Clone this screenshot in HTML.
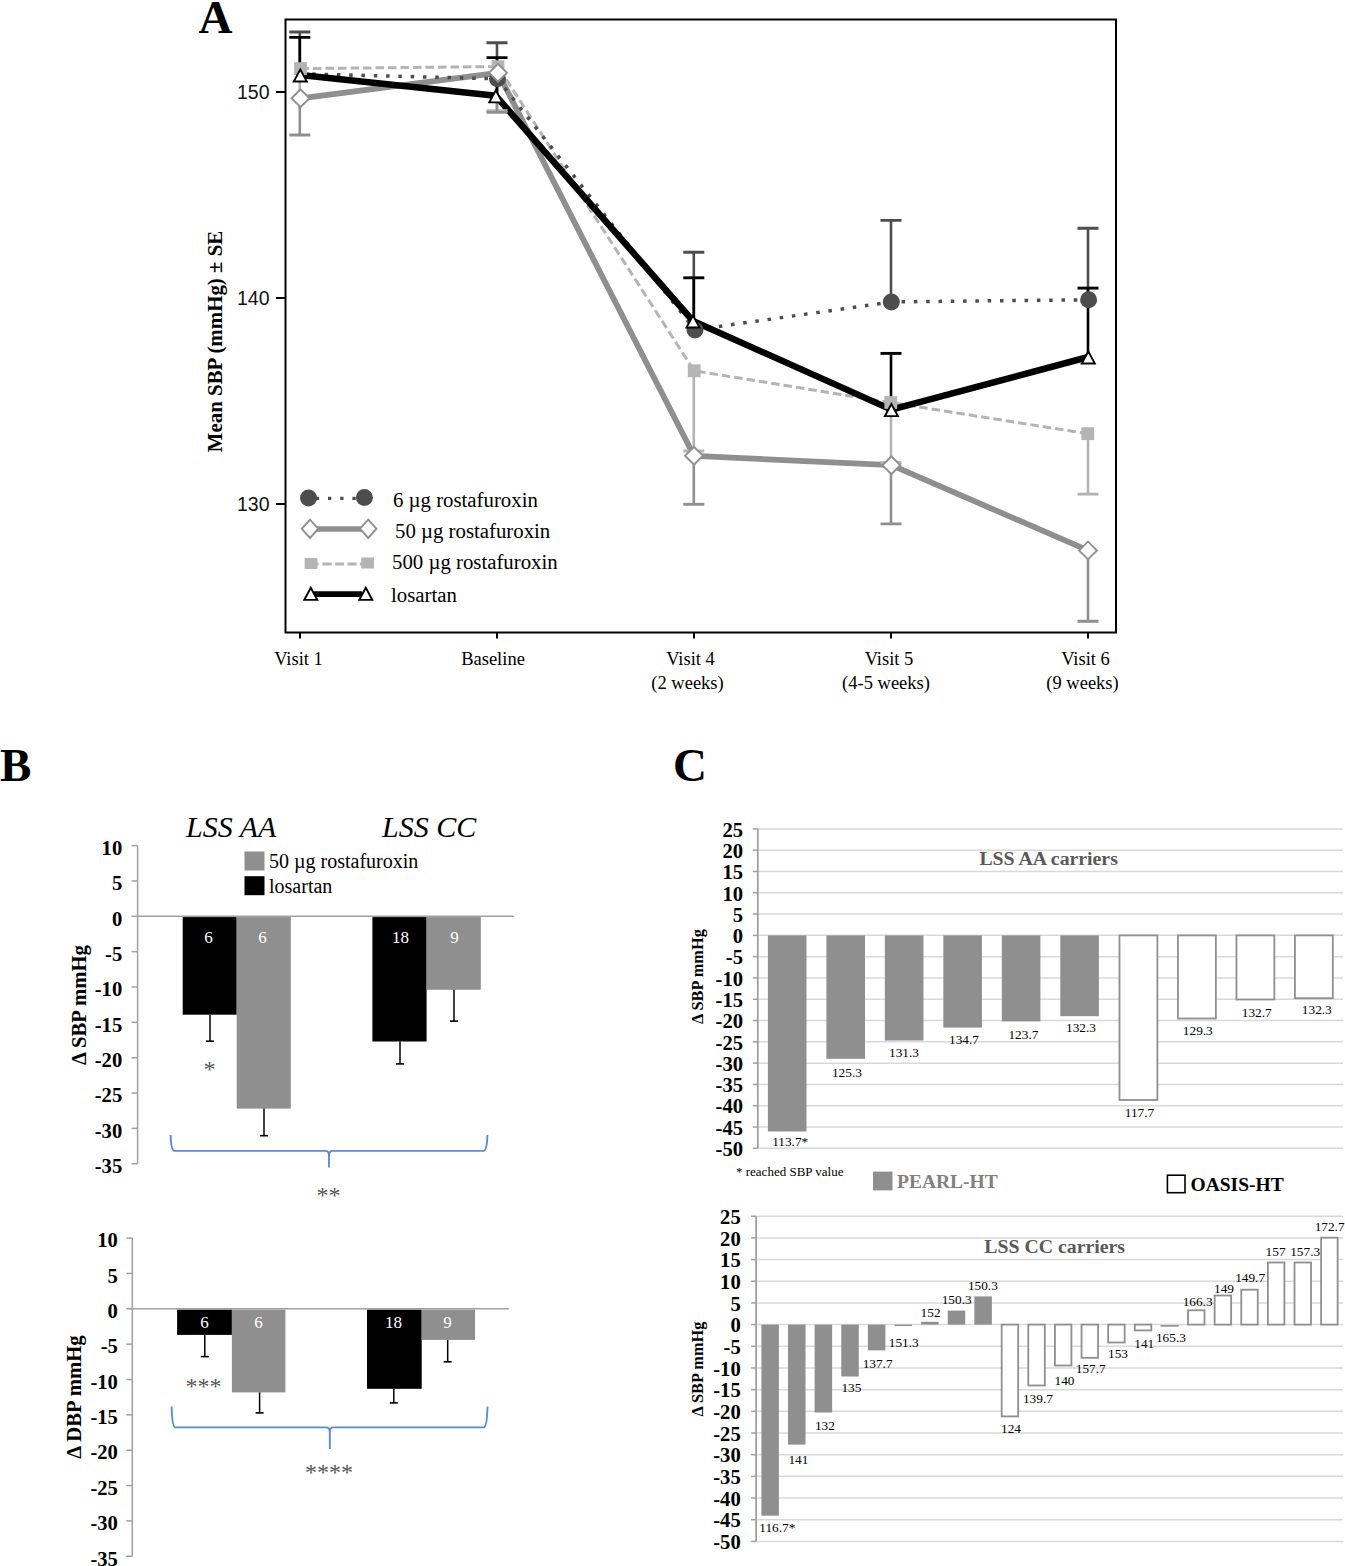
<!DOCTYPE html>
<html><head><meta charset="utf-8"><title>Figure</title>
<style>
html,body{margin:0;padding:0;background:#fff;}
body{width:1345px;height:1566px;overflow:hidden;font-family:"Liberation Serif",serif;}
svg{display:block;}
</style></head>
<body>
<svg width="1345" height="1566" viewBox="0 0 1345 1566">
<defs><clipPath id="clipA"><rect x="286.5" y="20.5" width="828.5" height="611"/></clipPath></defs>
<rect width="1345" height="1566" fill="#fff"/>
<text x="198.5" y="33" font-size="47" font-weight="bold" font-style="normal" text-anchor="start" fill="#000" font-family='"Liberation Serif", serif' >A</text>
<rect x="285.5" y="19.5" width="830.5" height="613" fill="none" stroke="#000" stroke-width="2"/>
<line x1="276" y1="92" x2="285.5" y2="92" stroke="#000" stroke-width="2" />
<text x="269.5" y="99" font-size="19.5" font-weight="normal" font-style="normal" text-anchor="end" fill="#111" font-family='"Liberation Sans", sans-serif' >150</text>
<line x1="276" y1="298" x2="285.5" y2="298" stroke="#000" stroke-width="2" />
<text x="269.5" y="305" font-size="19.5" font-weight="normal" font-style="normal" text-anchor="end" fill="#111" font-family='"Liberation Sans", sans-serif' >140</text>
<line x1="276" y1="504" x2="285.5" y2="504" stroke="#000" stroke-width="2" />
<text x="269.5" y="511" font-size="19.5" font-weight="normal" font-style="normal" text-anchor="end" fill="#111" font-family='"Liberation Sans", sans-serif' >130</text>
<line x1="300" y1="633" x2="300" y2="638.5" stroke="#000" stroke-width="2" />
<line x1="497" y1="633" x2="497" y2="638.5" stroke="#000" stroke-width="2" />
<line x1="694" y1="633" x2="694" y2="638.5" stroke="#000" stroke-width="2" />
<line x1="891" y1="633" x2="891" y2="638.5" stroke="#000" stroke-width="2" />
<line x1="1088" y1="633" x2="1088" y2="638.5" stroke="#000" stroke-width="2" />
<text x="298.5" y="665" font-size="18.5" font-weight="normal" font-style="normal" text-anchor="middle" fill="#000" font-family='"Liberation Serif", serif' >Visit 1</text>
<text x="493" y="665" font-size="18.5" font-weight="normal" font-style="normal" text-anchor="middle" fill="#000" font-family='"Liberation Serif", serif' >Baseline</text>
<text x="690.5" y="665" font-size="18.5" font-weight="normal" font-style="normal" text-anchor="middle" fill="#000" font-family='"Liberation Serif", serif' >Visit 4</text>
<text x="687.5" y="689" font-size="18.5" font-weight="normal" font-style="normal" text-anchor="middle" fill="#000" font-family='"Liberation Serif", serif' >(2 weeks)</text>
<text x="889" y="665" font-size="18.5" font-weight="normal" font-style="normal" text-anchor="middle" fill="#000" font-family='"Liberation Serif", serif' >Visit 5</text>
<text x="886" y="689" font-size="18.5" font-weight="normal" font-style="normal" text-anchor="middle" fill="#000" font-family='"Liberation Serif", serif' >(4-5 weeks)</text>
<text x="1085.5" y="665" font-size="18.5" font-weight="normal" font-style="normal" text-anchor="middle" fill="#000" font-family='"Liberation Serif", serif' >Visit 6</text>
<text x="1082.5" y="689" font-size="18.5" font-weight="normal" font-style="normal" text-anchor="middle" fill="#000" font-family='"Liberation Serif", serif' >(9 weeks)</text>
<text transform="translate(222,341.5) rotate(-90)" font-size="20.9" font-weight="bold" text-anchor="middle" font-family='"Liberation Serif", serif'>Mean SBP (mmHg) &#177; SE</text>
<g clip-path="url(#clipA)">
<polyline points="300.5,98.3 498,72.8 694,455.8 891.4,465.2 1088,550.4" fill="none" stroke="#8f8f8f" stroke-width="5.8" stroke-linejoin="round"/>
<polyline points="300.5,68.6 498,66.6 694.2,370.8 890.8,402.5 1087.7,433.7" fill="none" stroke="#b4b4b4" stroke-width="3" stroke-dasharray="8.5 4"/>
<polyline points="300,73.8 497.5,78.8 695,330 891.3,301.9 1088.6,299.8" fill="none" stroke="#4d4d4d" stroke-width="3.5" stroke-dasharray="3.5 8.8"/>
<polyline points="300.3,74.9 495.8,95.8 693,321 891.4,409.6 1088.3,357" fill="none" stroke="#000" stroke-width="6.5" stroke-linejoin="round"/>
<line x1="299.8" y1="68.6" x2="299.8" y2="92" stroke="#b4b4b4" stroke-width="2.6" />
<line x1="497" y1="66.6" x2="497" y2="110.8" stroke="#b4b4b4" stroke-width="2.6" />
<line x1="486.5" y1="110.8" x2="507.5" y2="110.8" stroke="#b4b4b4" stroke-width="2.9" />
<line x1="693.8" y1="370.8" x2="693.8" y2="451" stroke="#b4b4b4" stroke-width="2.6" />
<line x1="683.3" y1="451" x2="704.3" y2="451" stroke="#b4b4b4" stroke-width="2.9" />
<line x1="891" y1="402.5" x2="891" y2="462.6" stroke="#b4b4b4" stroke-width="2.6" />
<line x1="880.5" y1="462.6" x2="901.5" y2="462.6" stroke="#b4b4b4" stroke-width="2.9" />
<line x1="1088" y1="433.7" x2="1088" y2="494.1" stroke="#b4b4b4" stroke-width="2.6" />
<line x1="1077.5" y1="494.1" x2="1098.5" y2="494.1" stroke="#b4b4b4" stroke-width="2.9" />
<line x1="299.8" y1="98.3" x2="299.8" y2="135" stroke="#8f8f8f" stroke-width="2.6" />
<line x1="289.3" y1="135" x2="310.3" y2="135" stroke="#8f8f8f" stroke-width="2.9" />
<line x1="497" y1="72.8" x2="497" y2="112.4" stroke="#8f8f8f" stroke-width="2.6" />
<line x1="486.5" y1="112.4" x2="507.5" y2="112.4" stroke="#8f8f8f" stroke-width="2.9" />
<line x1="693.8" y1="455.8" x2="693.8" y2="504.3" stroke="#8f8f8f" stroke-width="2.6" />
<line x1="683.3" y1="504.3" x2="704.3" y2="504.3" stroke="#8f8f8f" stroke-width="2.9" />
<line x1="891" y1="465.2" x2="891" y2="523.9" stroke="#8f8f8f" stroke-width="2.6" />
<line x1="880.5" y1="523.9" x2="901.5" y2="523.9" stroke="#8f8f8f" stroke-width="2.9" />
<line x1="1088" y1="550.4" x2="1088" y2="621.3" stroke="#8f8f8f" stroke-width="2.6" />
<line x1="1077.5" y1="621.3" x2="1098.5" y2="621.3" stroke="#8f8f8f" stroke-width="2.9" />
<line x1="299.8" y1="73.8" x2="299.8" y2="32" stroke="#4d4d4d" stroke-width="2.6" />
<line x1="289.3" y1="32" x2="310.3" y2="32" stroke="#4d4d4d" stroke-width="2.9" />
<line x1="497" y1="78.8" x2="497" y2="42.8" stroke="#4d4d4d" stroke-width="2.6" />
<line x1="486.5" y1="42.8" x2="507.5" y2="42.8" stroke="#4d4d4d" stroke-width="2.9" />
<line x1="693.8" y1="330" x2="693.8" y2="252.3" stroke="#4d4d4d" stroke-width="2.6" />
<line x1="683.3" y1="252.3" x2="704.3" y2="252.3" stroke="#4d4d4d" stroke-width="2.9" />
<line x1="891" y1="301.9" x2="891" y2="220.4" stroke="#4d4d4d" stroke-width="2.6" />
<line x1="880.5" y1="220.4" x2="901.5" y2="220.4" stroke="#4d4d4d" stroke-width="2.9" />
<line x1="1088" y1="299.8" x2="1088" y2="228.3" stroke="#4d4d4d" stroke-width="2.6" />
<line x1="1077.5" y1="228.3" x2="1098.5" y2="228.3" stroke="#4d4d4d" stroke-width="2.9" />
<line x1="299.8" y1="74.9" x2="299.8" y2="37.4" stroke="#000" stroke-width="2.6" />
<line x1="289.3" y1="37.4" x2="310.3" y2="37.4" stroke="#000" stroke-width="2.9" />
<line x1="497" y1="95.8" x2="497" y2="57.6" stroke="#000" stroke-width="2.6" />
<line x1="486.5" y1="57.6" x2="507.5" y2="57.6" stroke="#000" stroke-width="2.9" />
<line x1="693.8" y1="321" x2="693.8" y2="277.8" stroke="#000" stroke-width="2.6" />
<line x1="683.3" y1="277.8" x2="704.3" y2="277.8" stroke="#000" stroke-width="2.9" />
<line x1="891" y1="409.6" x2="891" y2="353.4" stroke="#000" stroke-width="2.6" />
<line x1="880.5" y1="353.4" x2="901.5" y2="353.4" stroke="#000" stroke-width="2.9" />
<line x1="1088" y1="357" x2="1088" y2="288.1" stroke="#000" stroke-width="2.6" />
<line x1="1077.5" y1="288.1" x2="1098.5" y2="288.1" stroke="#000" stroke-width="2.9" />
<circle cx="497.5" cy="78.8" r="8.5" fill="#4d4d4d"/>
<circle cx="695" cy="330" r="8.5" fill="#4d4d4d"/>
<circle cx="891.3" cy="301.9" r="8.5" fill="#4d4d4d"/>
<circle cx="1088.6" cy="299.8" r="8.5" fill="#4d4d4d"/>
<rect x="294.1" y="62.199999999999996" width="12.8" height="12.8" fill="#b4b4b4"/>
<rect x="491.6" y="60.199999999999996" width="12.8" height="12.8" fill="#b4b4b4"/>
<rect x="687.8000000000001" y="364.40000000000003" width="12.8" height="12.8" fill="#b4b4b4"/>
<rect x="884.4" y="396.1" width="12.8" height="12.8" fill="#b4b4b4"/>
<rect x="1081.3" y="427.3" width="12.8" height="12.8" fill="#b4b4b4"/>
<path d="M300.50,88.10 L310.80,98.30 L300.50,108.50 L290.20,98.30 Z" fill="#8f8f8f"/>
<path d="M300.50,90.77 L308.10,98.30 L300.50,105.83 L292.90,98.30 Z" fill="#fff"/>
<path d="M498.00,62.60 L508.30,72.80 L498.00,83.00 L487.70,72.80 Z" fill="#8f8f8f"/>
<path d="M498.00,65.27 L505.60,72.80 L498.00,80.33 L490.40,72.80 Z" fill="#fff"/>
<path d="M694.00,445.60 L704.30,455.80 L694.00,466.00 L683.70,455.80 Z" fill="#8f8f8f"/>
<path d="M694.00,448.27 L701.60,455.80 L694.00,463.33 L686.40,455.80 Z" fill="#fff"/>
<path d="M891.40,455.00 L901.70,465.20 L891.40,475.40 L881.10,465.20 Z" fill="#8f8f8f"/>
<path d="M891.40,457.67 L899.00,465.20 L891.40,472.73 L883.80,465.20 Z" fill="#fff"/>
<path d="M1088.00,540.20 L1098.30,550.40 L1088.00,560.60 L1077.70,550.40 Z" fill="#8f8f8f"/>
<path d="M1088.00,542.87 L1095.60,550.40 L1088.00,557.93 L1080.40,550.40 Z" fill="#fff"/>
<path d="M300.30,67.40 L308.40,82.40 L292.20,82.40 Z" fill="#000"/>
<path d="M300.30,71.40 L305.21,80.50 L295.39,80.50 Z" fill="#fff"/>
<path d="M495.80,88.30 L503.90,103.30 L487.70,103.30 Z" fill="#000"/>
<path d="M495.80,92.30 L500.71,101.40 L490.89,101.40 Z" fill="#fff"/>
<path d="M693.00,313.50 L701.10,328.50 L684.90,328.50 Z" fill="#000"/>
<path d="M693.00,317.50 L697.91,326.60 L688.09,326.60 Z" fill="#fff"/>
<path d="M891.40,402.10 L899.50,417.10 L883.30,417.10 Z" fill="#000"/>
<path d="M891.40,406.10 L896.31,415.20 L886.49,415.20 Z" fill="#fff"/>
<path d="M1088.30,349.50 L1096.40,364.50 L1080.20,364.50 Z" fill="#000"/>
<path d="M1088.30,353.50 L1093.21,362.60 L1083.39,362.60 Z" fill="#fff"/>
</g>
<line x1="315.8" y1="498.4" x2="357" y2="498.4" stroke="#4d4d4d" stroke-width="3.2" stroke-dasharray="3.3 8.9"/>
<circle cx="308.5" cy="498.1" r="8.5" fill="#4d4d4d"/>
<circle cx="364.4" cy="497.4" r="8.5" fill="#4d4d4d"/>
<line x1="316" y1="529" x2="362" y2="529" stroke="#8f8f8f" stroke-width="5.6" />
<path d="M310.00,518.20 L319.50,528.80 L310.00,539.40 L300.50,528.80 Z" fill="#8f8f8f"/>
<path d="M310.00,521.05 L316.95,528.80 L310.00,536.55 L303.05,528.80 Z" fill="#fff"/>
<path d="M368.20,518.20 L377.70,528.80 L368.20,539.40 L358.70,528.80 Z" fill="#8f8f8f"/>
<path d="M368.20,521.05 L375.15,528.80 L368.20,536.55 L361.25,528.80 Z" fill="#fff"/>
<rect x="316.5" y="562.5" width="2.2" height="3" fill="#b4b4b4"/>
<rect x="322.5" y="562.5" width="9.2" height="3" fill="#b4b4b4"/>
<rect x="335.1" y="562.5" width="8.9" height="3" fill="#b4b4b4"/>
<rect x="347.5" y="562.5" width="9.1" height="3" fill="#b4b4b4"/>
<rect x="359.8" y="562.5" width="2.2" height="3" fill="#b4b4b4"/>
<rect x="304.6" y="558" width="12.8" height="11" fill="#b4b4b4"/>
<rect x="361.2" y="557.5" width="12.8" height="11" fill="#b4b4b4"/>
<line x1="314" y1="594.2" x2="362" y2="594.2" stroke="#000" stroke-width="5.7" />
<path d="M310.80,585.80 L318.90,600.80 L302.70,600.80 Z" fill="#000"/>
<path d="M310.80,589.80 L315.71,598.90 L305.89,598.90 Z" fill="#fff"/>
<path d="M365.80,585.80 L373.90,600.80 L357.70,600.80 Z" fill="#000"/>
<path d="M365.80,589.80 L370.71,598.90 L360.89,598.90 Z" fill="#fff"/>
<text x="393" y="507" font-size="20.8" font-weight="normal" font-style="normal" text-anchor="start" fill="#000" font-family='"Liberation Serif", serif' >6 &#181;g rostafuroxin</text>
<text x="395" y="538" font-size="20.8" font-weight="normal" font-style="normal" text-anchor="start" fill="#000" font-family='"Liberation Serif", serif' >50 &#181;g rostafuroxin</text>
<text x="392" y="569" font-size="20.8" font-weight="normal" font-style="normal" text-anchor="start" fill="#000" font-family='"Liberation Serif", serif' >500 &#181;g rostafuroxin</text>
<text x="391" y="601.8" font-size="20.8" font-weight="normal" font-style="normal" text-anchor="start" fill="#000" font-family='"Liberation Serif", serif' >losartan</text>
<text x="0" y="781" font-size="47" font-weight="bold" font-style="normal" text-anchor="start" fill="#000" font-family='"Liberation Serif", serif' >B</text>
<text x="186" y="836.8" font-size="30" font-weight="normal" font-style="italic" text-anchor="start" fill="#000" font-family='"Liberation Serif", serif' >LSS AA</text>
<text x="382" y="836.8" font-size="30" font-weight="normal" font-style="italic" text-anchor="start" fill="#000" font-family='"Liberation Serif", serif' >LSS CC</text>
<rect x="244.5" y="851.5" width="20" height="19" fill="#8f8f8f"/>
<rect x="244.5" y="876.2" width="20" height="19" fill="#000"/>
<text x="269" y="868.2" font-size="20" font-weight="normal" font-style="normal" text-anchor="start" fill="#000" font-family='"Liberation Serif", serif' >50 &#181;g rostafuroxin</text>
<text x="269" y="892.7" font-size="20" font-weight="normal" font-style="normal" text-anchor="start" fill="#000" font-family='"Liberation Serif", serif' >losartan</text>
<line x1="137.6" y1="845.5999999999999" x2="137.6" y2="1163.75" stroke="#a0a0a0" stroke-width="1.5" />
<line x1="131.6" y1="845.5999999999999" x2="137.6" y2="845.5999999999999" stroke="#a0a0a0" stroke-width="1.5" />
<text x="122.2" y="854.8" font-size="20.6" font-weight="bold" font-style="normal" text-anchor="end" fill="#000" font-family='"Liberation Serif", serif' >10</text>
<line x1="131.6" y1="880.9499999999999" x2="137.6" y2="880.9499999999999" stroke="#a0a0a0" stroke-width="1.5" />
<text x="122.2" y="890.1" font-size="20.6" font-weight="bold" font-style="normal" text-anchor="end" fill="#000" font-family='"Liberation Serif", serif' >5</text>
<line x1="131.6" y1="916.3" x2="137.6" y2="916.3" stroke="#a0a0a0" stroke-width="1.5" />
<text x="122.2" y="925.5" font-size="20.6" font-weight="bold" font-style="normal" text-anchor="end" fill="#000" font-family='"Liberation Serif", serif' >0</text>
<line x1="131.6" y1="951.65" x2="137.6" y2="951.65" stroke="#a0a0a0" stroke-width="1.5" />
<text x="122.2" y="960.9" font-size="20.6" font-weight="bold" font-style="normal" text-anchor="end" fill="#000" font-family='"Liberation Serif", serif' >-5</text>
<line x1="131.6" y1="987.0" x2="137.6" y2="987.0" stroke="#a0a0a0" stroke-width="1.5" />
<text x="122.2" y="996.2" font-size="20.6" font-weight="bold" font-style="normal" text-anchor="end" fill="#000" font-family='"Liberation Serif", serif' >-10</text>
<line x1="131.6" y1="1022.3499999999999" x2="137.6" y2="1022.3499999999999" stroke="#a0a0a0" stroke-width="1.5" />
<text x="122.2" y="1031.5" font-size="20.6" font-weight="bold" font-style="normal" text-anchor="end" fill="#000" font-family='"Liberation Serif", serif' >-15</text>
<line x1="131.6" y1="1057.7" x2="137.6" y2="1057.7" stroke="#a0a0a0" stroke-width="1.5" />
<text x="122.2" y="1066.9" font-size="20.6" font-weight="bold" font-style="normal" text-anchor="end" fill="#000" font-family='"Liberation Serif", serif' >-20</text>
<line x1="131.6" y1="1093.05" x2="137.6" y2="1093.05" stroke="#a0a0a0" stroke-width="1.5" />
<text x="122.2" y="1102.2" font-size="20.6" font-weight="bold" font-style="normal" text-anchor="end" fill="#000" font-family='"Liberation Serif", serif' >-25</text>
<line x1="131.6" y1="1128.4" x2="137.6" y2="1128.4" stroke="#a0a0a0" stroke-width="1.5" />
<text x="122.2" y="1137.6" font-size="20.6" font-weight="bold" font-style="normal" text-anchor="end" fill="#000" font-family='"Liberation Serif", serif' >-30</text>
<line x1="131.6" y1="1163.75" x2="137.6" y2="1163.75" stroke="#a0a0a0" stroke-width="1.5" />
<text x="122.2" y="1173.0" font-size="20.6" font-weight="bold" font-style="normal" text-anchor="end" fill="#000" font-family='"Liberation Serif", serif' >-35</text>
<rect x="182.7" y="917.0999999999999" width="54.0" height="97.6000000000001" fill="#000"/>
<rect x="236.7" y="917.0999999999999" width="54.10000000000002" height="191.49999999999994" fill="#8f8f8f"/>
<rect x="372.4" y="917.0999999999999" width="54.200000000000045" height="124.40000000000005" fill="#000"/>
<rect x="426.6" y="917.0999999999999" width="54.19999999999999" height="72.7" fill="#8f8f8f"/>
<line x1="137.6" y1="916.3" x2="513.7" y2="916.3" stroke="#a0a0a0" stroke-width="1.5" />
<line x1="210" y1="1014.7" x2="210" y2="1041.2" stroke="#000" stroke-width="1.5" />
<line x1="206" y1="1041.2" x2="214" y2="1041.2" stroke="#000" stroke-width="1.6" />
<line x1="264" y1="1108.6" x2="264" y2="1135.7" stroke="#000" stroke-width="1.5" />
<line x1="260" y1="1135.7" x2="268" y2="1135.7" stroke="#000" stroke-width="1.6" />
<line x1="400" y1="1041.5" x2="400" y2="1063.9" stroke="#000" stroke-width="1.5" />
<line x1="396" y1="1063.9" x2="404" y2="1063.9" stroke="#000" stroke-width="1.6" />
<line x1="454" y1="989.8" x2="454" y2="1021.1" stroke="#000" stroke-width="1.5" />
<line x1="450" y1="1021.1" x2="458" y2="1021.1" stroke="#000" stroke-width="1.6" />
<text x="208.5" y="942.5" font-size="17" font-weight="normal" font-style="normal" text-anchor="middle" fill="#fff" font-family='"Liberation Serif", serif' >6</text>
<text x="262.5" y="942.5" font-size="17" font-weight="normal" font-style="normal" text-anchor="middle" fill="#fff" font-family='"Liberation Serif", serif' >6</text>
<text x="400.5" y="942.5" font-size="17" font-weight="normal" font-style="normal" text-anchor="middle" fill="#fff" font-family='"Liberation Serif", serif' >18</text>
<text x="454.5" y="942.5" font-size="17" font-weight="normal" font-style="normal" text-anchor="middle" fill="#fff" font-family='"Liberation Serif", serif' >9</text>
<path d="M170.6,1135 C170.79999999999998,1143 171.6,1150.1000000000001 174.1,1150.9 L325.5,1150.9 C328,1150.9 329,1152.4 329,1155.9 L329,1167.4 M329,1155.9 C329,1152.4 330,1150.9 332.5,1150.9 L483.9,1150.9 C486.4,1150.1000000000001 487.2,1143 487.4,1135" fill="none" stroke="#5a8ec8" stroke-width="1.9"/>
<text x="209.5" y="1077" font-size="24" font-weight="normal" font-style="normal" text-anchor="middle" fill="#555" font-family='"Liberation Serif", serif' >*</text>
<text x="328.5" y="1203" font-size="24" font-weight="normal" font-style="normal" text-anchor="middle" fill="#555" font-family='"Liberation Serif", serif' >**</text>
<text transform="translate(85.9,1005) rotate(-90)" font-size="20.7" font-weight="bold" text-anchor="middle" font-family='"Liberation Serif", serif'>Δ SBP mmHg</text>
<line x1="132.3" y1="1238.1" x2="132.3" y2="1556.25" stroke="#a0a0a0" stroke-width="1.5" />
<line x1="126.30000000000001" y1="1238.1" x2="132.3" y2="1238.1" stroke="#a0a0a0" stroke-width="1.5" />
<text x="117.9" y="1247.3" font-size="20.6" font-weight="bold" font-style="normal" text-anchor="end" fill="#000" font-family='"Liberation Serif", serif' >10</text>
<line x1="126.30000000000001" y1="1273.45" x2="132.3" y2="1273.45" stroke="#a0a0a0" stroke-width="1.5" />
<text x="117.9" y="1282.7" font-size="20.6" font-weight="bold" font-style="normal" text-anchor="end" fill="#000" font-family='"Liberation Serif", serif' >5</text>
<line x1="126.30000000000001" y1="1308.8" x2="132.3" y2="1308.8" stroke="#a0a0a0" stroke-width="1.5" />
<text x="117.9" y="1318.0" font-size="20.6" font-weight="bold" font-style="normal" text-anchor="end" fill="#000" font-family='"Liberation Serif", serif' >0</text>
<line x1="126.30000000000001" y1="1344.1499999999999" x2="132.3" y2="1344.1499999999999" stroke="#a0a0a0" stroke-width="1.5" />
<text x="117.9" y="1353.3" font-size="20.6" font-weight="bold" font-style="normal" text-anchor="end" fill="#000" font-family='"Liberation Serif", serif' >-5</text>
<line x1="126.30000000000001" y1="1379.5" x2="132.3" y2="1379.5" stroke="#a0a0a0" stroke-width="1.5" />
<text x="117.9" y="1388.7" font-size="20.6" font-weight="bold" font-style="normal" text-anchor="end" fill="#000" font-family='"Liberation Serif", serif' >-10</text>
<line x1="126.30000000000001" y1="1414.85" x2="132.3" y2="1414.85" stroke="#a0a0a0" stroke-width="1.5" />
<text x="117.9" y="1424.0" font-size="20.6" font-weight="bold" font-style="normal" text-anchor="end" fill="#000" font-family='"Liberation Serif", serif' >-15</text>
<line x1="126.30000000000001" y1="1450.2" x2="132.3" y2="1450.2" stroke="#a0a0a0" stroke-width="1.5" />
<text x="117.9" y="1459.4" font-size="20.6" font-weight="bold" font-style="normal" text-anchor="end" fill="#000" font-family='"Liberation Serif", serif' >-20</text>
<line x1="126.30000000000001" y1="1485.55" x2="132.3" y2="1485.55" stroke="#a0a0a0" stroke-width="1.5" />
<text x="117.9" y="1494.8" font-size="20.6" font-weight="bold" font-style="normal" text-anchor="end" fill="#000" font-family='"Liberation Serif", serif' >-25</text>
<line x1="126.30000000000001" y1="1520.9" x2="132.3" y2="1520.9" stroke="#a0a0a0" stroke-width="1.5" />
<text x="117.9" y="1530.1" font-size="20.6" font-weight="bold" font-style="normal" text-anchor="end" fill="#000" font-family='"Liberation Serif", serif' >-30</text>
<line x1="126.30000000000001" y1="1556.25" x2="132.3" y2="1556.25" stroke="#a0a0a0" stroke-width="1.5" />
<text x="117.9" y="1565.5" font-size="20.6" font-weight="bold" font-style="normal" text-anchor="end" fill="#000" font-family='"Liberation Serif", serif' >-35</text>
<rect x="177.1" y="1309.6" width="54.80000000000001" height="25.300000000000136" fill="#000"/>
<rect x="231.9" y="1309.6" width="53.49999999999997" height="82.80000000000014" fill="#8f8f8f"/>
<rect x="367" y="1309.6" width="54.69999999999999" height="79.2" fill="#000"/>
<rect x="421.7" y="1309.6" width="53.30000000000001" height="30.300000000000136" fill="#8f8f8f"/>
<line x1="132.3" y1="1308.8" x2="508.9" y2="1308.8" stroke="#a0a0a0" stroke-width="1.5" />
<line x1="204.8" y1="1334.9" x2="204.8" y2="1356.6" stroke="#000" stroke-width="1.5" />
<line x1="200.8" y1="1356.6" x2="208.8" y2="1356.6" stroke="#000" stroke-width="1.6" />
<line x1="259.6" y1="1392.4" x2="259.6" y2="1412.9" stroke="#000" stroke-width="1.5" />
<line x1="255.60000000000002" y1="1412.9" x2="263.6" y2="1412.9" stroke="#000" stroke-width="1.6" />
<line x1="393.8" y1="1388.8" x2="393.8" y2="1402.9" stroke="#000" stroke-width="1.5" />
<line x1="389.8" y1="1402.9" x2="397.8" y2="1402.9" stroke="#000" stroke-width="1.6" />
<line x1="447.7" y1="1339.9" x2="447.7" y2="1361.8" stroke="#000" stroke-width="1.5" />
<line x1="443.7" y1="1361.8" x2="451.7" y2="1361.8" stroke="#000" stroke-width="1.6" />
<text x="204.5" y="1328.3" font-size="17" font-weight="normal" font-style="normal" text-anchor="middle" fill="#fff" font-family='"Liberation Serif", serif' >6</text>
<text x="258.5" y="1328.3" font-size="17" font-weight="normal" font-style="normal" text-anchor="middle" fill="#fff" font-family='"Liberation Serif", serif' >6</text>
<text x="393.5" y="1328.3" font-size="17" font-weight="normal" font-style="normal" text-anchor="middle" fill="#fff" font-family='"Liberation Serif", serif' >18</text>
<text x="447.5" y="1328.3" font-size="17" font-weight="normal" font-style="normal" text-anchor="middle" fill="#fff" font-family='"Liberation Serif", serif' >9</text>
<path d="M171.6,1406.6 C171.79999999999998,1414.6 172.6,1426.6000000000001 175.1,1427.4 L326.3,1427.4 C328.8,1427.4 329.8,1428.9 329.8,1432.4 L329.8,1449 M329.8,1432.4 C329.8,1428.9 330.8,1427.4 333.3,1427.4 L484.0,1427.4 C486.5,1426.6000000000001 487.3,1414.6 487.5,1406.6" fill="none" stroke="#5a8ec8" stroke-width="1.9"/>
<text x="203.6" y="1394" font-size="24" font-weight="normal" font-style="normal" text-anchor="middle" fill="#555" font-family='"Liberation Serif", serif' >***</text>
<text x="329" y="1480" font-size="24" font-weight="normal" font-style="normal" text-anchor="middle" fill="#555" font-family='"Liberation Serif", serif' >****</text>
<text transform="translate(81,1397) rotate(-90)" font-size="20.7" font-weight="bold" text-anchor="middle" font-family='"Liberation Serif", serif'>Δ DBP mmHg</text>
<text x="673" y="781" font-size="47" font-weight="bold" font-style="normal" text-anchor="start" fill="#000" font-family='"Liberation Serif", serif' >C</text>
<line x1="757.8" y1="828.9" x2="1343" y2="828.9" stroke="#d9d9d9" stroke-width="1.5" />
<line x1="752.8" y1="828.9" x2="757.8" y2="828.9" stroke="#a0a0a0" stroke-width="1.5" />
<text x="743" y="836.6" font-size="20.6" font-weight="bold" font-style="normal" text-anchor="end" fill="#000" font-family='"Liberation Serif", serif' >25</text>
<line x1="757.8" y1="850.19" x2="1343" y2="850.19" stroke="#d9d9d9" stroke-width="1.5" />
<line x1="752.8" y1="850.19" x2="757.8" y2="850.19" stroke="#a0a0a0" stroke-width="1.5" />
<text x="743" y="857.9" font-size="20.6" font-weight="bold" font-style="normal" text-anchor="end" fill="#000" font-family='"Liberation Serif", serif' >20</text>
<line x1="757.8" y1="871.49" x2="1343" y2="871.49" stroke="#d9d9d9" stroke-width="1.5" />
<line x1="752.8" y1="871.49" x2="757.8" y2="871.49" stroke="#a0a0a0" stroke-width="1.5" />
<text x="743" y="879.2" font-size="20.6" font-weight="bold" font-style="normal" text-anchor="end" fill="#000" font-family='"Liberation Serif", serif' >15</text>
<line x1="757.8" y1="892.78" x2="1343" y2="892.78" stroke="#d9d9d9" stroke-width="1.5" />
<line x1="752.8" y1="892.78" x2="757.8" y2="892.78" stroke="#a0a0a0" stroke-width="1.5" />
<text x="743" y="900.5" font-size="20.6" font-weight="bold" font-style="normal" text-anchor="end" fill="#000" font-family='"Liberation Serif", serif' >10</text>
<line x1="757.8" y1="914.07" x2="1343" y2="914.07" stroke="#d9d9d9" stroke-width="1.5" />
<line x1="752.8" y1="914.07" x2="757.8" y2="914.07" stroke="#a0a0a0" stroke-width="1.5" />
<text x="743" y="921.8" font-size="20.6" font-weight="bold" font-style="normal" text-anchor="end" fill="#000" font-family='"Liberation Serif", serif' >5</text>
<line x1="757.8" y1="935.37" x2="1343" y2="935.37" stroke="#d9d9d9" stroke-width="1.5" />
<line x1="752.8" y1="935.37" x2="757.8" y2="935.37" stroke="#a0a0a0" stroke-width="1.5" />
<text x="743" y="943.1" font-size="20.6" font-weight="bold" font-style="normal" text-anchor="end" fill="#000" font-family='"Liberation Serif", serif' >0</text>
<line x1="757.8" y1="956.66" x2="1343" y2="956.66" stroke="#d9d9d9" stroke-width="1.5" />
<line x1="752.8" y1="956.66" x2="757.8" y2="956.66" stroke="#a0a0a0" stroke-width="1.5" />
<text x="743" y="964.4" font-size="20.6" font-weight="bold" font-style="normal" text-anchor="end" fill="#000" font-family='"Liberation Serif", serif' >-5</text>
<line x1="757.8" y1="977.95" x2="1343" y2="977.95" stroke="#d9d9d9" stroke-width="1.5" />
<line x1="752.8" y1="977.95" x2="757.8" y2="977.95" stroke="#a0a0a0" stroke-width="1.5" />
<text x="743" y="985.7" font-size="20.6" font-weight="bold" font-style="normal" text-anchor="end" fill="#000" font-family='"Liberation Serif", serif' >-10</text>
<line x1="757.8" y1="999.25" x2="1343" y2="999.25" stroke="#d9d9d9" stroke-width="1.5" />
<line x1="752.8" y1="999.25" x2="757.8" y2="999.25" stroke="#a0a0a0" stroke-width="1.5" />
<text x="743" y="1007.0" font-size="20.6" font-weight="bold" font-style="normal" text-anchor="end" fill="#000" font-family='"Liberation Serif", serif' >-15</text>
<line x1="757.8" y1="1020.54" x2="1343" y2="1020.54" stroke="#d9d9d9" stroke-width="1.5" />
<line x1="752.8" y1="1020.54" x2="757.8" y2="1020.54" stroke="#a0a0a0" stroke-width="1.5" />
<text x="743" y="1028.2" font-size="20.6" font-weight="bold" font-style="normal" text-anchor="end" fill="#000" font-family='"Liberation Serif", serif' >-20</text>
<line x1="757.8" y1="1041.84" x2="1343" y2="1041.84" stroke="#d9d9d9" stroke-width="1.5" />
<line x1="752.8" y1="1041.84" x2="757.8" y2="1041.84" stroke="#a0a0a0" stroke-width="1.5" />
<text x="743" y="1049.5" font-size="20.6" font-weight="bold" font-style="normal" text-anchor="end" fill="#000" font-family='"Liberation Serif", serif' >-25</text>
<line x1="757.8" y1="1063.13" x2="1343" y2="1063.13" stroke="#d9d9d9" stroke-width="1.5" />
<line x1="752.8" y1="1063.13" x2="757.8" y2="1063.13" stroke="#a0a0a0" stroke-width="1.5" />
<text x="743" y="1070.8" font-size="20.6" font-weight="bold" font-style="normal" text-anchor="end" fill="#000" font-family='"Liberation Serif", serif' >-30</text>
<line x1="757.8" y1="1084.42" x2="1343" y2="1084.42" stroke="#d9d9d9" stroke-width="1.5" />
<line x1="752.8" y1="1084.42" x2="757.8" y2="1084.42" stroke="#a0a0a0" stroke-width="1.5" />
<text x="743" y="1092.1" font-size="20.6" font-weight="bold" font-style="normal" text-anchor="end" fill="#000" font-family='"Liberation Serif", serif' >-35</text>
<line x1="757.8" y1="1105.72" x2="1343" y2="1105.72" stroke="#d9d9d9" stroke-width="1.5" />
<line x1="752.8" y1="1105.72" x2="757.8" y2="1105.72" stroke="#a0a0a0" stroke-width="1.5" />
<text x="743" y="1113.4" font-size="20.6" font-weight="bold" font-style="normal" text-anchor="end" fill="#000" font-family='"Liberation Serif", serif' >-40</text>
<line x1="757.8" y1="1127.01" x2="1343" y2="1127.01" stroke="#d9d9d9" stroke-width="1.5" />
<line x1="752.8" y1="1127.01" x2="757.8" y2="1127.01" stroke="#a0a0a0" stroke-width="1.5" />
<text x="743" y="1134.7" font-size="20.6" font-weight="bold" font-style="normal" text-anchor="end" fill="#000" font-family='"Liberation Serif", serif' >-45</text>
<line x1="757.8" y1="1148.3" x2="1343" y2="1148.3" stroke="#d9d9d9" stroke-width="1.5" />
<line x1="752.8" y1="1148.3" x2="757.8" y2="1148.3" stroke="#a0a0a0" stroke-width="1.5" />
<text x="743" y="1156.0" font-size="20.6" font-weight="bold" font-style="normal" text-anchor="end" fill="#000" font-family='"Liberation Serif", serif' >-50</text>
<line x1="757.8" y1="828.9" x2="757.8" y2="1148.3025" stroke="#a0a0a0" stroke-width="1.8" />
<text x="979.4" y="865" font-size="19.8" font-weight="bold" font-style="normal" text-anchor="start" fill="#595959" font-family='"Liberation Serif", serif' >LSS AA carriers</text>
<rect x="767.90" y="935.4" width="38.6" height="196.10" fill="#8f8f8f"/>
<rect x="826.38" y="935.4" width="38.6" height="123.40" fill="#8f8f8f"/>
<rect x="884.86" y="935.4" width="38.6" height="105.10" fill="#8f8f8f"/>
<rect x="943.34" y="935.4" width="38.6" height="92.20" fill="#8f8f8f"/>
<rect x="1001.82" y="935.4" width="38.6" height="86.00" fill="#8f8f8f"/>
<rect x="1060.30" y="935.4" width="38.6" height="80.80" fill="#8f8f8f"/>
<rect x="1119.48" y="935.4" width="37.90" height="164.60" fill="#fff" stroke="#8f8f8f" stroke-width="1.8"/>
<rect x="1177.96" y="935.4" width="37.90" height="83.10" fill="#fff" stroke="#8f8f8f" stroke-width="1.8"/>
<rect x="1236.44" y="935.4" width="37.90" height="64.10" fill="#fff" stroke="#8f8f8f" stroke-width="1.8"/>
<rect x="1294.92" y="935.4" width="37.90" height="62.80" fill="#fff" stroke="#8f8f8f" stroke-width="1.8"/>
<text x="790.2" y="1145.5" font-size="13.3" font-weight="normal" font-style="normal" text-anchor="middle" fill="#000" font-family='"Liberation Serif", serif' >113.7*</text>
<text x="846.9" y="1076.7" font-size="13.3" font-weight="normal" font-style="normal" text-anchor="middle" fill="#000" font-family='"Liberation Serif", serif' >125.3</text>
<text x="904" y="1057.3" font-size="13.3" font-weight="normal" font-style="normal" text-anchor="middle" fill="#000" font-family='"Liberation Serif", serif' >131.3</text>
<text x="964" y="1043.9" font-size="13.3" font-weight="normal" font-style="normal" text-anchor="middle" fill="#000" font-family='"Liberation Serif", serif' >134.7</text>
<text x="1023.4" y="1038.5" font-size="13.3" font-weight="normal" font-style="normal" text-anchor="middle" fill="#000" font-family='"Liberation Serif", serif' >123.7</text>
<text x="1081" y="1032.1" font-size="13.3" font-weight="normal" font-style="normal" text-anchor="middle" fill="#000" font-family='"Liberation Serif", serif' >132.3</text>
<text x="1139.5" y="1116.7" font-size="13.3" font-weight="normal" font-style="normal" text-anchor="middle" fill="#000" font-family='"Liberation Serif", serif' >117.7</text>
<text x="1197.8" y="1034.6" font-size="13.3" font-weight="normal" font-style="normal" text-anchor="middle" fill="#000" font-family='"Liberation Serif", serif' >129.3</text>
<text x="1256.7" y="1016.7" font-size="13.3" font-weight="normal" font-style="normal" text-anchor="middle" fill="#000" font-family='"Liberation Serif", serif' >132.7</text>
<text x="1316.8" y="1014.1" font-size="13.3" font-weight="normal" font-style="normal" text-anchor="middle" fill="#000" font-family='"Liberation Serif", serif' >132.3</text>
<text transform="translate(703.3,976.6) rotate(-90)" font-size="16.4" font-weight="bold" text-anchor="middle" font-family='"Liberation Serif", serif'>Δ SBP mmHg</text>
<line x1="756.1" y1="1216.2" x2="1343" y2="1216.2" stroke="#d9d9d9" stroke-width="1.5" />
<line x1="751.1" y1="1216.2" x2="756.1" y2="1216.2" stroke="#a0a0a0" stroke-width="1.5" />
<text x="740.7" y="1223.9" font-size="20.6" font-weight="bold" font-style="normal" text-anchor="end" fill="#000" font-family='"Liberation Serif", serif' >25</text>
<line x1="756.1" y1="1237.88" x2="1343" y2="1237.88" stroke="#d9d9d9" stroke-width="1.5" />
<line x1="751.1" y1="1237.88" x2="756.1" y2="1237.88" stroke="#a0a0a0" stroke-width="1.5" />
<text x="740.7" y="1245.6" font-size="20.6" font-weight="bold" font-style="normal" text-anchor="end" fill="#000" font-family='"Liberation Serif", serif' >20</text>
<line x1="756.1" y1="1259.56" x2="1343" y2="1259.56" stroke="#d9d9d9" stroke-width="1.5" />
<line x1="751.1" y1="1259.56" x2="756.1" y2="1259.56" stroke="#a0a0a0" stroke-width="1.5" />
<text x="740.7" y="1267.3" font-size="20.6" font-weight="bold" font-style="normal" text-anchor="end" fill="#000" font-family='"Liberation Serif", serif' >15</text>
<line x1="756.1" y1="1281.24" x2="1343" y2="1281.24" stroke="#d9d9d9" stroke-width="1.5" />
<line x1="751.1" y1="1281.24" x2="756.1" y2="1281.24" stroke="#a0a0a0" stroke-width="1.5" />
<text x="740.7" y="1288.9" font-size="20.6" font-weight="bold" font-style="normal" text-anchor="end" fill="#000" font-family='"Liberation Serif", serif' >10</text>
<line x1="756.1" y1="1302.92" x2="1343" y2="1302.92" stroke="#d9d9d9" stroke-width="1.5" />
<line x1="751.1" y1="1302.92" x2="756.1" y2="1302.92" stroke="#a0a0a0" stroke-width="1.5" />
<text x="740.7" y="1310.6" font-size="20.6" font-weight="bold" font-style="normal" text-anchor="end" fill="#000" font-family='"Liberation Serif", serif' >5</text>
<line x1="756.1" y1="1324.6" x2="1343" y2="1324.6" stroke="#d9d9d9" stroke-width="1.5" />
<line x1="751.1" y1="1324.6" x2="756.1" y2="1324.6" stroke="#a0a0a0" stroke-width="1.5" />
<text x="740.7" y="1332.3" font-size="20.6" font-weight="bold" font-style="normal" text-anchor="end" fill="#000" font-family='"Liberation Serif", serif' >0</text>
<line x1="756.1" y1="1346.28" x2="1343" y2="1346.28" stroke="#d9d9d9" stroke-width="1.5" />
<line x1="751.1" y1="1346.28" x2="756.1" y2="1346.28" stroke="#a0a0a0" stroke-width="1.5" />
<text x="740.7" y="1354.0" font-size="20.6" font-weight="bold" font-style="normal" text-anchor="end" fill="#000" font-family='"Liberation Serif", serif' >-5</text>
<line x1="756.1" y1="1367.96" x2="1343" y2="1367.96" stroke="#d9d9d9" stroke-width="1.5" />
<line x1="751.1" y1="1367.96" x2="756.1" y2="1367.96" stroke="#a0a0a0" stroke-width="1.5" />
<text x="740.7" y="1375.7" font-size="20.6" font-weight="bold" font-style="normal" text-anchor="end" fill="#000" font-family='"Liberation Serif", serif' >-10</text>
<line x1="756.1" y1="1389.64" x2="1343" y2="1389.64" stroke="#d9d9d9" stroke-width="1.5" />
<line x1="751.1" y1="1389.64" x2="756.1" y2="1389.64" stroke="#a0a0a0" stroke-width="1.5" />
<text x="740.7" y="1397.3" font-size="20.6" font-weight="bold" font-style="normal" text-anchor="end" fill="#000" font-family='"Liberation Serif", serif' >-15</text>
<line x1="756.1" y1="1411.32" x2="1343" y2="1411.32" stroke="#d9d9d9" stroke-width="1.5" />
<line x1="751.1" y1="1411.32" x2="756.1" y2="1411.32" stroke="#a0a0a0" stroke-width="1.5" />
<text x="740.7" y="1419.0" font-size="20.6" font-weight="bold" font-style="normal" text-anchor="end" fill="#000" font-family='"Liberation Serif", serif' >-20</text>
<line x1="756.1" y1="1433.0" x2="1343" y2="1433.0" stroke="#d9d9d9" stroke-width="1.5" />
<line x1="751.1" y1="1433.0" x2="756.1" y2="1433.0" stroke="#a0a0a0" stroke-width="1.5" />
<text x="740.7" y="1440.7" font-size="20.6" font-weight="bold" font-style="normal" text-anchor="end" fill="#000" font-family='"Liberation Serif", serif' >-25</text>
<line x1="756.1" y1="1454.68" x2="1343" y2="1454.68" stroke="#d9d9d9" stroke-width="1.5" />
<line x1="751.1" y1="1454.68" x2="756.1" y2="1454.68" stroke="#a0a0a0" stroke-width="1.5" />
<text x="740.7" y="1462.4" font-size="20.6" font-weight="bold" font-style="normal" text-anchor="end" fill="#000" font-family='"Liberation Serif", serif' >-30</text>
<line x1="756.1" y1="1476.36" x2="1343" y2="1476.36" stroke="#d9d9d9" stroke-width="1.5" />
<line x1="751.1" y1="1476.36" x2="756.1" y2="1476.36" stroke="#a0a0a0" stroke-width="1.5" />
<text x="740.7" y="1484.1" font-size="20.6" font-weight="bold" font-style="normal" text-anchor="end" fill="#000" font-family='"Liberation Serif", serif' >-35</text>
<line x1="756.1" y1="1498.04" x2="1343" y2="1498.04" stroke="#d9d9d9" stroke-width="1.5" />
<line x1="751.1" y1="1498.04" x2="756.1" y2="1498.04" stroke="#a0a0a0" stroke-width="1.5" />
<text x="740.7" y="1505.7" font-size="20.6" font-weight="bold" font-style="normal" text-anchor="end" fill="#000" font-family='"Liberation Serif", serif' >-40</text>
<line x1="756.1" y1="1519.72" x2="1343" y2="1519.72" stroke="#d9d9d9" stroke-width="1.5" />
<line x1="751.1" y1="1519.72" x2="756.1" y2="1519.72" stroke="#a0a0a0" stroke-width="1.5" />
<text x="740.7" y="1527.4" font-size="20.6" font-weight="bold" font-style="normal" text-anchor="end" fill="#000" font-family='"Liberation Serif", serif' >-45</text>
<line x1="756.1" y1="1541.4" x2="1343" y2="1541.4" stroke="#d9d9d9" stroke-width="1.5" />
<line x1="751.1" y1="1541.4" x2="756.1" y2="1541.4" stroke="#a0a0a0" stroke-width="1.5" />
<text x="740.7" y="1549.1" font-size="20.6" font-weight="bold" font-style="normal" text-anchor="end" fill="#000" font-family='"Liberation Serif", serif' >-50</text>
<line x1="756.1" y1="1216.2" x2="756.1" y2="1541.4" stroke="#a0a0a0" stroke-width="1.8" />
<text x="984.3" y="1253.3" font-size="19.8" font-weight="bold" font-style="normal" text-anchor="start" fill="#595959" font-family='"Liberation Serif", serif' >LSS CC carriers</text>
<rect x="761.40" y="1324.6" width="17.5" height="191.10" fill="#8f8f8f"/>
<rect x="788.02" y="1324.6" width="17.5" height="120.00" fill="#8f8f8f"/>
<rect x="814.64" y="1324.6" width="17.5" height="87.90" fill="#8f8f8f"/>
<rect x="841.26" y="1324.6" width="17.5" height="51.90" fill="#8f8f8f"/>
<rect x="867.88" y="1324.6" width="17.5" height="25.80" fill="#8f8f8f"/>
<rect x="894.50" y="1324.6" width="17.5" height="1.50" fill="#8f8f8f"/>
<rect x="921.12" y="1321.8" width="17.5" height="2.80" fill="#8f8f8f"/>
<rect x="947.74" y="1310.6" width="17.5" height="14.00" fill="#8f8f8f"/>
<rect x="974.36" y="1296.4" width="17.5" height="28.20" fill="#8f8f8f"/>
<rect x="1001.68" y="1324.6" width="16.50" height="91.80" fill="#fff" stroke="#8f8f8f" stroke-width="1.8"/>
<rect x="1028.30" y="1324.6" width="16.50" height="60.90" fill="#fff" stroke="#8f8f8f" stroke-width="1.8"/>
<rect x="1054.92" y="1324.6" width="16.50" height="40.90" fill="#fff" stroke="#8f8f8f" stroke-width="1.8"/>
<rect x="1081.54" y="1324.6" width="16.50" height="33.20" fill="#fff" stroke="#8f8f8f" stroke-width="1.8"/>
<rect x="1108.16" y="1324.6" width="16.50" height="17.90" fill="#fff" stroke="#8f8f8f" stroke-width="1.8"/>
<rect x="1134.78" y="1324.6" width="16.50" height="5.80" fill="#fff" stroke="#8f8f8f" stroke-width="1.8"/>
<rect x="1160.50" y="1325.1" width="18.3" height="1.60" fill="#8f8f8f"/>
<rect x="1188.02" y="1310.3" width="16.50" height="14.30" fill="#fff" stroke="#8f8f8f" stroke-width="1.8"/>
<rect x="1214.64" y="1295.5" width="16.50" height="29.10" fill="#fff" stroke="#8f8f8f" stroke-width="1.8"/>
<rect x="1241.26" y="1289.7" width="16.50" height="34.90" fill="#fff" stroke="#8f8f8f" stroke-width="1.8"/>
<rect x="1267.88" y="1262.5" width="16.50" height="62.10" fill="#fff" stroke="#8f8f8f" stroke-width="1.8"/>
<rect x="1294.50" y="1262.5" width="16.50" height="62.10" fill="#fff" stroke="#8f8f8f" stroke-width="1.8"/>
<rect x="1321.12" y="1237.7" width="16.50" height="86.90" fill="#fff" stroke="#8f8f8f" stroke-width="1.8"/>
<text x="777.3" y="1531.9" font-size="13.3" font-weight="normal" font-style="normal" text-anchor="middle" fill="#000" font-family='"Liberation Serif", serif' >116.7*</text>
<text x="798.4" y="1463.6" font-size="13.3" font-weight="normal" font-style="normal" text-anchor="middle" fill="#000" font-family='"Liberation Serif", serif' >141</text>
<text x="824.9000000000001" y="1429.8" font-size="13.3" font-weight="normal" font-style="normal" text-anchor="middle" fill="#000" font-family='"Liberation Serif", serif' >132</text>
<text x="851.4" y="1392.2" font-size="13.3" font-weight="normal" font-style="normal" text-anchor="middle" fill="#000" font-family='"Liberation Serif", serif' >135</text>
<text x="877.5999999999999" y="1367.9" font-size="13.3" font-weight="normal" font-style="normal" text-anchor="middle" fill="#000" font-family='"Liberation Serif", serif' >137.7</text>
<text x="903.75" y="1347" font-size="13.3" font-weight="normal" font-style="normal" text-anchor="middle" fill="#000" font-family='"Liberation Serif", serif' >151.3</text>
<text x="930.6" y="1317" font-size="13.3" font-weight="normal" font-style="normal" text-anchor="middle" fill="#000" font-family='"Liberation Serif", serif' >152</text>
<text x="956.6500000000001" y="1304" font-size="13.3" font-weight="normal" font-style="normal" text-anchor="middle" fill="#000" font-family='"Liberation Serif", serif' >150.3</text>
<text x="982.8499999999999" y="1290" font-size="13.3" font-weight="normal" font-style="normal" text-anchor="middle" fill="#000" font-family='"Liberation Serif", serif' >150.3</text>
<text x="1011.05" y="1433.3" font-size="13.3" font-weight="normal" font-style="normal" text-anchor="middle" fill="#000" font-family='"Liberation Serif", serif' >124</text>
<text x="1037.9" y="1403" font-size="13.3" font-weight="normal" font-style="normal" text-anchor="middle" fill="#000" font-family='"Liberation Serif", serif' >139.7</text>
<text x="1064.5" y="1384.5" font-size="13.3" font-weight="normal" font-style="normal" text-anchor="middle" fill="#000" font-family='"Liberation Serif", serif' >140</text>
<text x="1090.6999999999998" y="1373.2" font-size="13.3" font-weight="normal" font-style="normal" text-anchor="middle" fill="#000" font-family='"Liberation Serif", serif' >157.7</text>
<text x="1118.05" y="1358.1" font-size="13.3" font-weight="normal" font-style="normal" text-anchor="middle" fill="#000" font-family='"Liberation Serif", serif' >153</text>
<text x="1144.3" y="1347.6" font-size="13.3" font-weight="normal" font-style="normal" text-anchor="middle" fill="#000" font-family='"Liberation Serif", serif' >141</text>
<text x="1170.9" y="1342.3" font-size="13.3" font-weight="normal" font-style="normal" text-anchor="middle" fill="#000" font-family='"Liberation Serif", serif' >165.3</text>
<text x="1197.6" y="1305.9" font-size="13.3" font-weight="normal" font-style="normal" text-anchor="middle" fill="#000" font-family='"Liberation Serif", serif' >166.3</text>
<text x="1224.0" y="1292.9" font-size="13.3" font-weight="normal" font-style="normal" text-anchor="middle" fill="#000" font-family='"Liberation Serif", serif' >149</text>
<text x="1250.1" y="1282.4" font-size="13.3" font-weight="normal" font-style="normal" text-anchor="middle" fill="#000" font-family='"Liberation Serif", serif' >149.7</text>
<text x="1275.6" y="1256" font-size="13.3" font-weight="normal" font-style="normal" text-anchor="middle" fill="#000" font-family='"Liberation Serif", serif' >157</text>
<text x="1305.15" y="1256" font-size="13.3" font-weight="normal" font-style="normal" text-anchor="middle" fill="#000" font-family='"Liberation Serif", serif' >157.3</text>
<text x="1329.6" y="1231.4" font-size="13.3" font-weight="normal" font-style="normal" text-anchor="middle" fill="#000" font-family='"Liberation Serif", serif' >172.7</text>
<text transform="translate(703.3,1369) rotate(-90)" font-size="16.4" font-weight="bold" text-anchor="middle" font-family='"Liberation Serif", serif'>Δ SBP mmHg</text>
<text x="736" y="1176.2" font-size="13" font-weight="normal" font-style="normal" text-anchor="start" fill="#000" font-family='"Liberation Serif", serif' >* reached SBP value</text>
<rect x="873" y="1171.6" width="19.5" height="18.8" fill="#8f8f8f"/>
<text x="897" y="1188.1" font-size="19.5" font-weight="bold" font-style="normal" text-anchor="start" fill="#808080" font-family='"Liberation Serif", serif' >PEARL-HT</text>
<rect x="1167.4" y="1175.2" width="17.6" height="17.5" fill="#fff" stroke="#000" stroke-width="1.6"/>
<text x="1190.5" y="1190.8" font-size="19.5" font-weight="bold" font-style="normal" text-anchor="start" fill="#000" font-family='"Liberation Serif", serif' >OASIS-HT</text>
</svg>
</body></html>
